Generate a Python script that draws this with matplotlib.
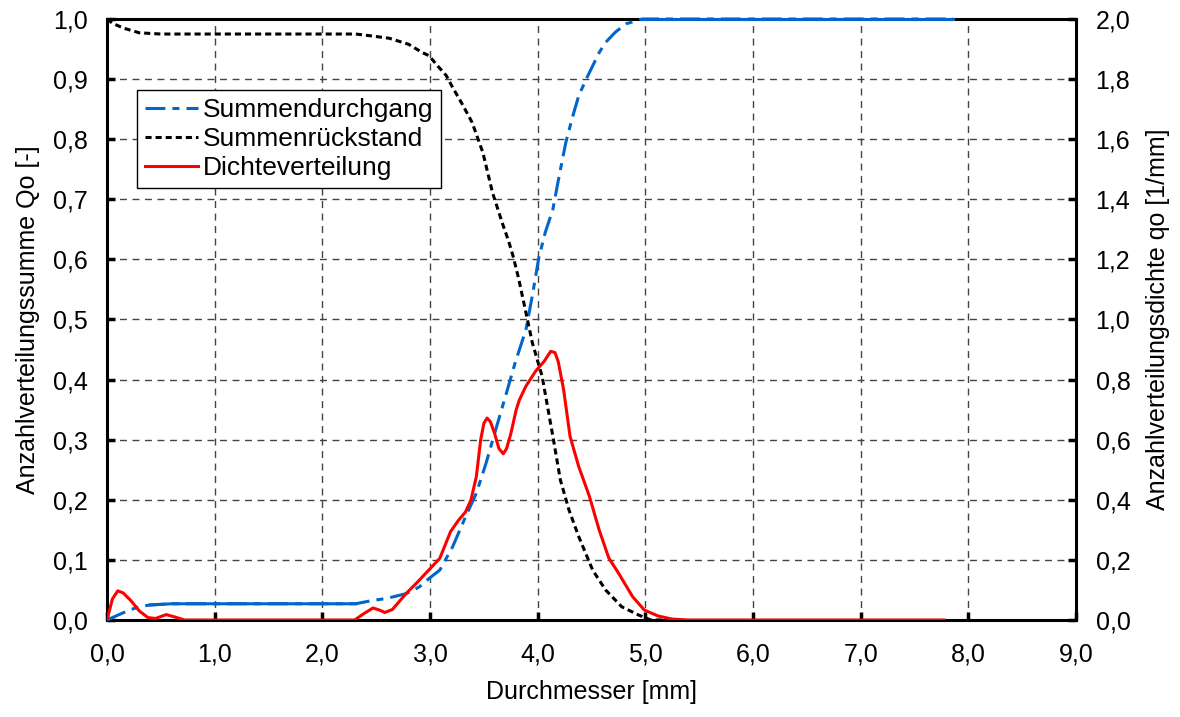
import matplotlib
matplotlib.use("Agg")
import matplotlib.pyplot as plt
from matplotlib.ticker import FuncFormatter, MultipleLocator

plt.rcParams['font.family'] = ['Liberation Sans', 'DejaVu Sans']
plt.rcParams['font.size'] = 18

# Summendurchgang Q0 (linke Achse)
x_dg = [0.0, 0.1, 0.2, 0.3, 0.4, 0.6, 1.0, 2.0, 2.31, 2.45, 2.6, 2.78, 2.9, 2.99,
        3.09, 3.21, 3.33, 3.43, 3.52, 3.61, 3.70, 3.79, 3.89, 3.95, 4.01, 4.07,
        4.14, 4.20, 4.26, 4.32, 4.38, 4.45, 4.51, 4.57, 4.63, 4.72, 4.82, 4.97,
        6.0, 7.86]
q_dg = [0.0, 0.008, 0.016, 0.022, 0.025, 0.027, 0.027, 0.027, 0.027, 0.032, 0.036,
        0.044, 0.055, 0.069, 0.083, 0.122, 0.172, 0.211, 0.261, 0.317, 0.372, 0.428,
        0.483, 0.54, 0.603, 0.645, 0.683, 0.74, 0.794, 0.835, 0.872, 0.9, 0.922,
        0.944, 0.961, 0.978, 0.992, 1.0, 1.0, 1.0]

# Summenrückstand (linke Achse)
x_rs = [0.0, 0.05, 0.15, 0.3, 0.5, 1.0, 2.0, 2.31, 2.45, 2.62, 2.8, 2.93, 2.99,
        3.08, 3.15, 3.21, 3.30, 3.39, 3.49, 3.58, 3.67, 3.73, 3.77, 3.82, 3.88,
        3.95, 4.04, 4.14, 4.21, 4.29, 4.38, 4.51, 4.63, 4.78, 4.94, 5.05, 5.2]
q_rs = [1.0, 0.993, 0.985, 0.977, 0.975, 0.975, 0.975, 0.975, 0.972, 0.968, 0.958,
        0.944, 0.939, 0.92, 0.906, 0.886, 0.858, 0.828, 0.778, 0.711, 0.661, 0.63,
        0.606, 0.57, 0.52, 0.461, 0.406, 0.306, 0.233, 0.183, 0.139, 0.083, 0.05,
        0.022, 0.008, 0.0, 0.0]

# Dichteverteilung q0 (rechte Achse)
x_di = [0.0, 0.05, 0.1, 0.15, 0.22, 0.3, 0.38, 0.45, 0.55, 0.63, 0.72, 1.0, 2.0,
        2.3, 2.38, 2.47, 2.53, 2.58, 2.65, 2.78, 2.88, 2.99, 3.09, 3.19, 3.26,
        3.33, 3.38, 3.43, 3.47, 3.50, 3.53, 3.56, 3.60, 3.64, 3.68, 3.71, 3.75,
        3.80, 3.83, 3.89, 3.98, 4.06, 4.12, 4.16, 4.19, 4.24, 4.30, 4.38, 4.48,
        4.57, 4.66, 4.75, 4.88, 4.99, 5.12, 5.25, 5.4, 6.0, 7.0, 7.77]
q_di = [0.0, 0.07, 0.097, 0.09, 0.065, 0.03, 0.008, 0.005, 0.018, 0.01, 0.0, 0.0,
        0.0, 0.0, 0.02, 0.04, 0.033, 0.025, 0.035, 0.089, 0.125, 0.167, 0.205,
        0.294, 0.33, 0.36, 0.4, 0.478, 0.6, 0.655, 0.672, 0.66, 0.62, 0.57, 0.553,
        0.57, 0.62, 0.70, 0.733, 0.778, 0.828, 0.861, 0.894, 0.89, 0.86, 0.767,
        0.611, 0.511, 0.411, 0.3, 0.206, 0.156, 0.078, 0.033, 0.013, 0.003, 0.0,
        0.0, 0.0, 0.0]

def komma(v, pos):
    return f"{v:.1f}".replace(".", ",")

fig = plt.figure(figsize=(11.8, 7.17), dpi=100)
ax = fig.add_axes([0.0907, 0.1353, 0.8213, 0.8382])
ax2 = ax.twinx()

blau = '#0066CC'
l1, = ax.plot(x_dg, q_dg, color=blau, lw=2.2, ls=(0, (6.5, 2.3, 2.3, 2.3)),
              label='Summendurchgang', zorder=3, clip_on=False)
# flache Abschnitte erscheinen im Original durchgezogen
ax.plot(x_dg[4:9], q_dg[4:9], color=blau, lw=2.2, zorder=3)
ax.plot(x_dg[-3:], q_dg[-3:], color=blau, lw=2.2, zorder=3, clip_on=False)
l2, = ax.plot(x_rs, q_rs, color='black', lw=2.2, ls=(0, (2, 1.3)),
              label='Summenrückstand', zorder=3, clip_on=False)
l3, = ax2.plot(x_di, q_di, color='#FF0000', lw=2.2, label='Dichteverteilung', zorder=3)

ax.set_xlim(0, 9)
ax.set_ylim(0, 1)
ax2.set_ylim(0, 2)
ax.xaxis.set_major_locator(MultipleLocator(1))
ax.yaxis.set_major_locator(MultipleLocator(0.1))
ax2.yaxis.set_major_locator(MultipleLocator(0.2))
for a in (ax.xaxis, ax.yaxis, ax2.yaxis):
    a.set_major_formatter(FuncFormatter(komma))

ax.grid(True, color='#444444', lw=1.0, ls=(0, (5, 4)))
ax.tick_params(axis='x', direction='in', length=6, width=2.5, pad=16)
ax.tick_params(axis='y', direction='in', length=6, width=2.5, pad=14)
ax2.tick_params(axis='y', direction='in', length=6, width=2.5, pad=14)
for s in ax.spines.values():
    s.set_linewidth(2.2)
    s.set_color('black')
for s in ax2.spines.values():
    s.set_visible(False)

ax.set_xlabel('Durchmesser [mm]', labelpad=10)
ax.set_ylabel('Anzahlverteilungssumme Qo [-]', labelpad=9)
ax2.set_ylabel('Anzahlverteilungsdichte qo [1/mm]', labelpad=11)

leg = ax2.legend(handles=[l1, l2, l3], loc='upper left', bbox_to_anchor=(0.031, 0.882),
                 borderaxespad=0, fancybox=False, edgecolor='black', framealpha=1,
                 handlelength=2.0, handletextpad=0.2, labelspacing=0.2,
                 borderpad=0.3, fontsize=19)
leg.get_frame().set_linewidth(1.0)

fig.savefig('out.png', dpi=100)
